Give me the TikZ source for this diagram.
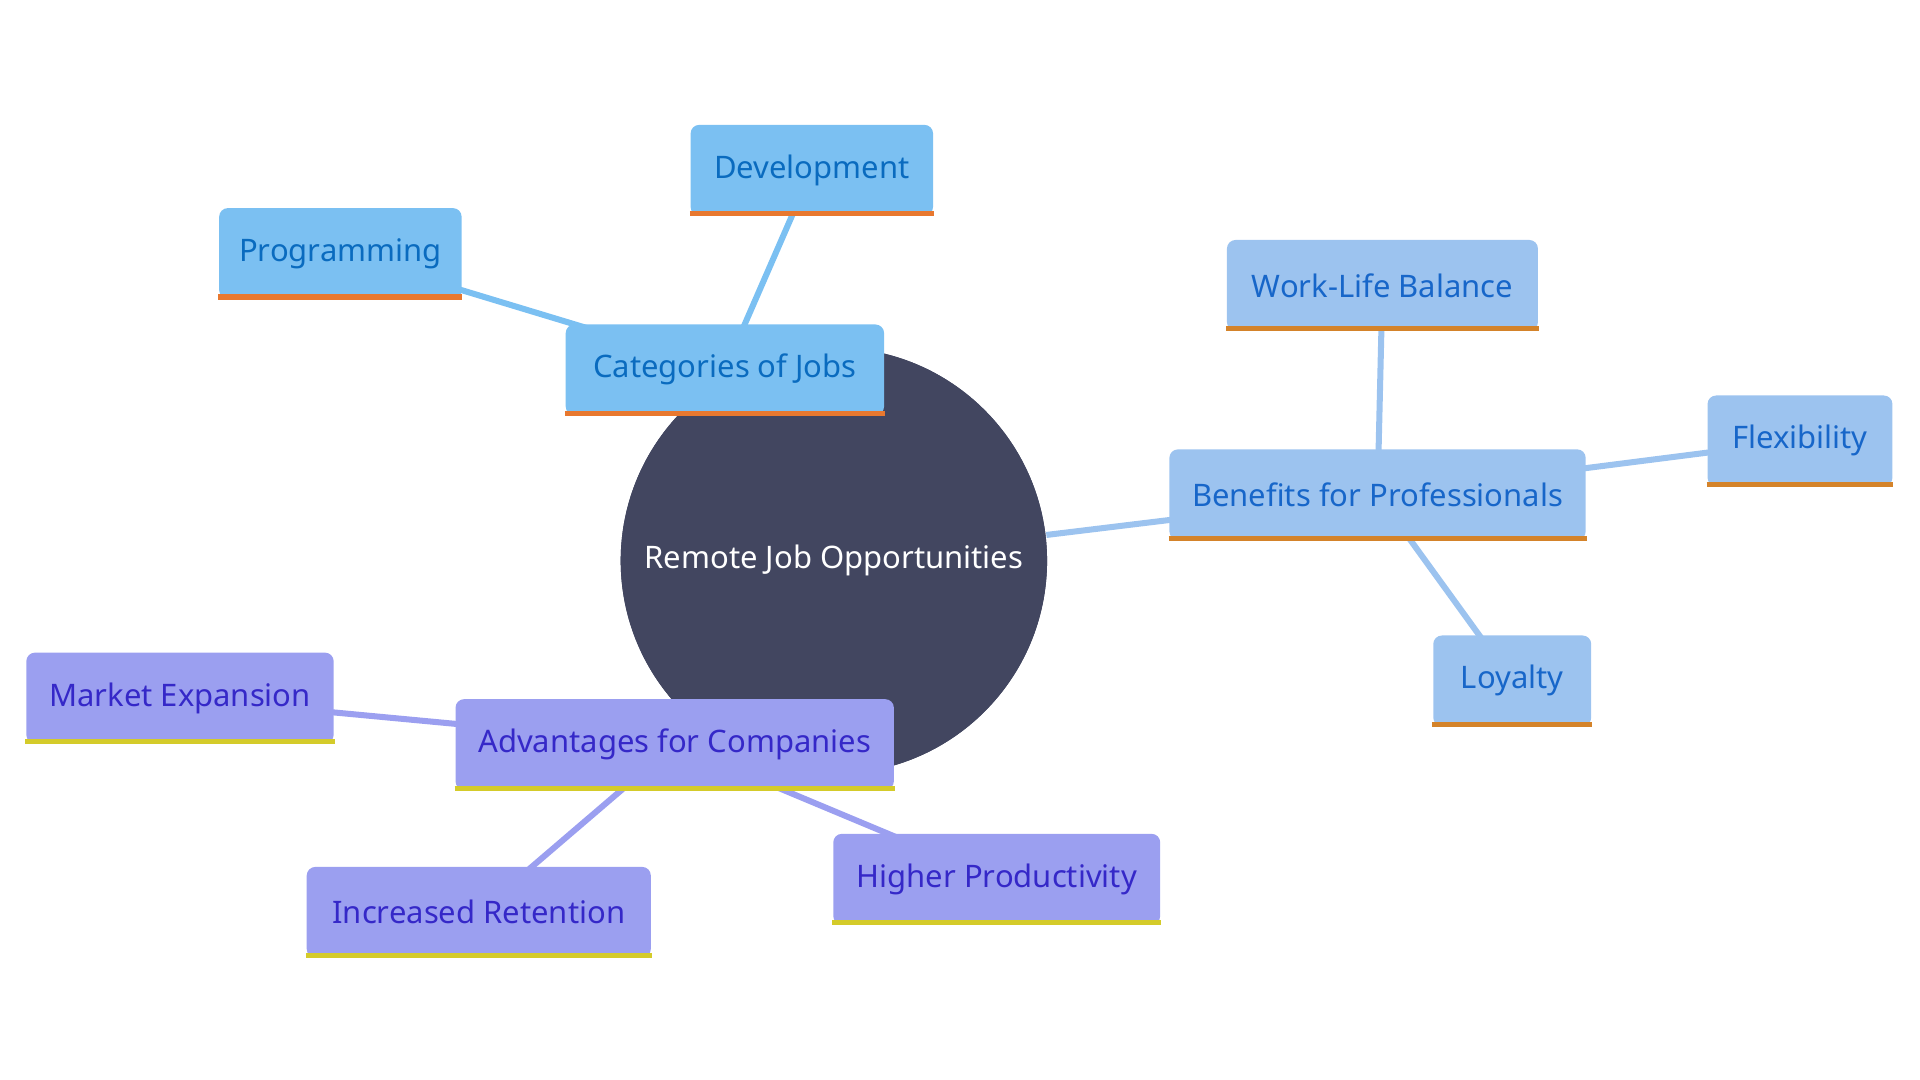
\documentclass[tikz,border=0pt]{standalone}
\usepackage{fontspec}
\setmainfont{Noto Sans}
\definecolor{rootc}{HTML}{424660}
\definecolor{catf}{HTML}{7BC0F2}\definecolor{catt}{HTML}{0A6BBF}\definecolor{cats}{HTML}{E8782F}
\definecolor{benf}{HTML}{9CC3EF}\definecolor{bent}{HTML}{1766C9}\definecolor{bens}{HTML}{D4832A}
\definecolor{advf}{HTML}{9B9FF0}\definecolor{advt}{HTML}{3528C8}\definecolor{advs}{HTML}{D4CB2A}
\newcommand{\leaf}[6]{% name, x, y, width, group, text
  \node[box, fill=#5f, text=#5t, minimum width=#4*0.01cm] (#1) at (#2,#3) {#6};
  \draw[line width=1.2pt, #5s] ([yshift=0.6pt]#1.south west) -- ([yshift=0.6pt]#1.south east);}
\begin{document}
\begin{tikzpicture}[x=0.01cm,y=-0.01cm,
    box/.style={rounded corners=2pt, minimum height=0.74cm, inner sep=0pt, font=\fontsize{7.2}{8}\selectfont},
    link/.style={line width=1.4pt}]
  \useasboundingbox (0,0) rectangle (1568,882);
  \node[circle, fill=rootc, minimum size=3.48cm, text=white, font=\fontsize{7.2}{8}\selectfont] (root) at (681,458) {Remote Job Opportunities};
  % edges behind boxes
  \coordinate (cat) at (592,302); \coordinate (ben) at (1125,404); \coordinate (adv) at (551,608);
  \begin{scope}[on background layer/.try]
  \end{scope}
  \draw[link, catf] (cat) -- (663,139) (cat) -- (278,207);
  \draw[link, benf] (root) -- (ben) (ben) -- (1129,233) (ben) -- (1470,360) (ben) -- (1235,556);
  \draw[link, advf] (adv) -- (147,570) (adv) -- (391,745) (adv) -- (814,718);
  \node[circle, fill=rootc, minimum size=3.48cm, text=white, font=\fontsize{7.2}{8}\selectfont] at (681,458) {Remote Job Opportunities};
  % boxes
  \leaf{catn}{592}{302}{260}{cat}{Categories of Jobs}
  \leaf{dev}{663}{139}{198}{cat}{Development}
  \leaf{prog}{278}{207}{198}{cat}{Programming}
  \leaf{benn}{1125}{404}{340}{ben}{Benefits for Professionals}
  \leaf{wlb}{1129}{233}{254}{ben}{Work-Life Balance}
  \leaf{flex}{1470}{360}{151}{ben}{Flexibility}
  \leaf{loy}{1235}{556}{129}{ben}{Loyalty}
  \leaf{advn}{551}{608}{358}{adv}{Advantages for Companies}
  \leaf{mkt}{147}{570}{251}{adv}{Market Expansion}
  \leaf{ret}{391}{745}{281}{adv}{Increased Retention}
  \leaf{prod}{814}{718}{267}{adv}{Higher Productivity}
\end{tikzpicture}
\end{document}
